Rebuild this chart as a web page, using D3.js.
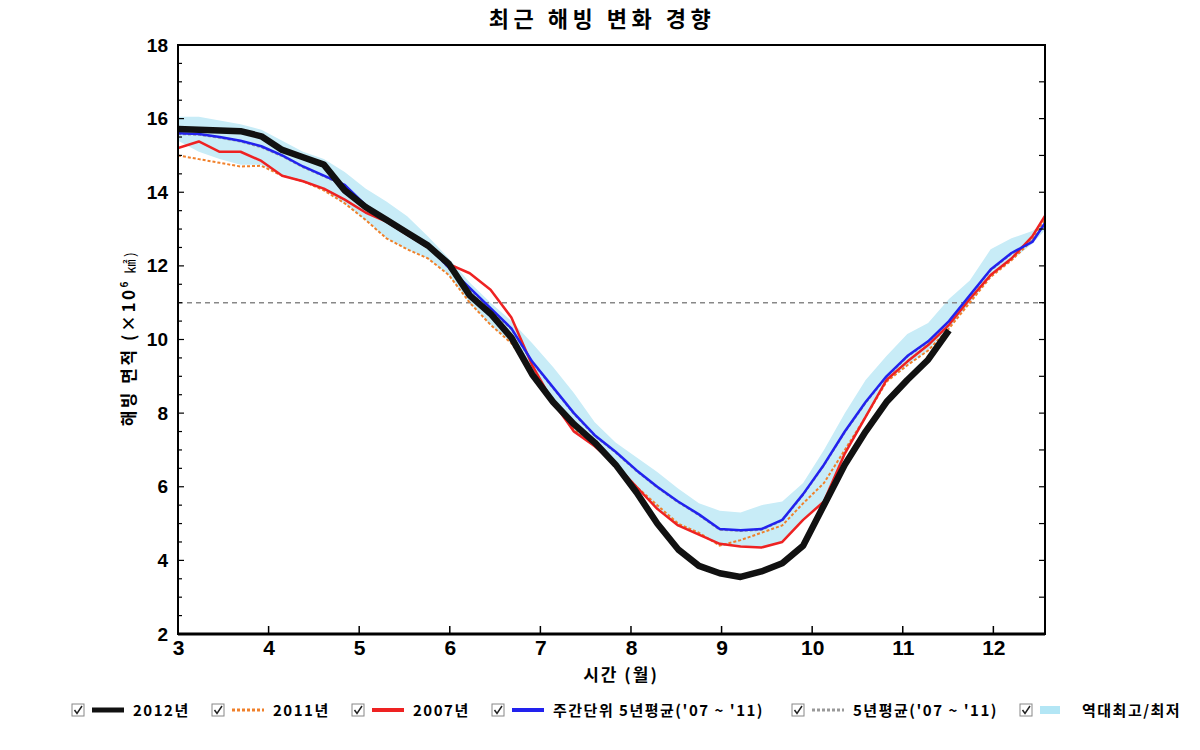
<!DOCTYPE html>
<html><head><meta charset="utf-8">
<script src="https://cdn.jsdelivr.net/npm/d3@7"></script>
<style>
body{margin:0;background:#fff;}
svg{display:block;}
</style></head>
<body>
<svg id="c" width="1200" height="750"></svg>
<script>
// Time grid (month, fractional), roughly weekly
const weeks = [3.00,3.23,3.46,3.69,3.92,4.15,4.38,4.61,4.84,5.07,5.30,5.53,5.76,5.99,6.22,6.45,6.68,6.91,7.14,7.37,7.60,7.83,8.06,8.29,8.52,8.75,8.98,9.21,9.44,9.67,9.90,10.13,10.36,10.59,10.82,11.05,11.28,11.51,11.74,11.97,12.20,12.43,12.58];

const y2012 = [15.72,15.70,15.68,15.66,15.52,15.15,14.95,14.75,14.05,13.60,13.25,12.90,12.55,12.05,11.20,10.70,10.05,9.05,8.30,7.70,7.20,6.60,5.85,5.00,4.30,3.85,3.65,3.55,3.70,3.92,4.40,5.50,6.60,7.50,8.30,8.90,9.45,10.25,null,null,null,null,null];
const y2011 = [15.00,14.90,14.80,14.70,14.72,14.45,14.30,14.05,13.70,13.25,12.75,12.45,12.20,11.75,11.00,10.40,9.90,9.10,8.30,7.55,7.15,6.60,6.00,5.50,5.00,4.75,4.40,4.55,4.75,4.95,5.55,6.10,7.00,7.90,8.85,9.30,9.70,10.30,11.00,11.70,12.15,12.70,13.30];
const y2007 = [15.20,15.38,15.10,15.10,14.85,14.45,14.30,14.10,13.80,13.45,13.20,12.85,12.50,12.05,11.80,11.35,10.60,9.30,8.30,7.50,7.10,6.60,6.00,5.40,4.95,4.70,4.45,4.38,4.35,4.50,5.10,5.60,6.90,7.90,8.90,9.40,9.85,10.40,11.10,11.75,12.20,12.80,13.40];
const yWeekAvg = [15.60,15.58,15.50,15.40,15.25,15.00,14.70,14.45,14.20,13.65,13.25,12.90,12.55,11.95,11.40,10.85,10.30,9.40,8.70,8.00,7.40,6.95,6.45,6.00,5.60,5.25,4.85,4.82,4.85,5.10,5.80,6.60,7.50,8.30,9.00,9.55,9.95,10.50,11.20,11.90,12.35,12.65,13.20];
const y5yrAvg = [15.58,15.56,15.48,15.38,15.22,14.98,14.68,14.43,14.18,13.63,13.23,12.88,12.53,11.93,11.38,10.83,10.28,9.38,8.68,7.98,7.38,6.93,6.43,5.98,5.58,5.23,4.83,4.80,4.83,5.08,5.78,6.58,7.48,8.28,8.98,9.53,9.93,10.48,11.18,11.88,12.33,12.70,13.15];
const bandMax = [16.05,16.05,15.95,15.85,15.70,15.40,15.10,14.90,14.55,14.10,13.75,13.35,12.80,12.20,11.55,11.00,10.50,9.90,9.25,8.55,7.75,7.20,6.80,6.40,5.95,5.55,5.35,5.30,5.50,5.60,6.10,7.00,8.00,8.90,9.55,10.15,10.45,11.10,11.60,12.45,12.75,12.95,13.20];
const bandMin = [15.40,15.10,14.90,14.75,14.75,14.45,14.30,14.05,13.70,13.25,12.75,12.45,12.20,11.75,11.00,10.40,9.90,9.05,8.30,7.45,7.10,6.60,6.00,5.40,4.95,4.70,4.40,4.38,4.35,4.50,5.10,5.60,6.90,7.90,8.85,9.30,9.70,10.30,11.00,11.70,12.15,12.60,13.00];

const refLine = 11;
const xTicks = [3,4,5,6,7,8,9,10,11,12];
const yTicks = [2,4,6,8,10,12,14,16,18];

const title = "최근 해빙 변화 경향";
const xTitle = "시간 (월)";
const legendItems = [
  {label:"2012년", type:"line", color:"#111111", dash:null, w:5},
  {label:"2011년", type:"line", color:"#f0802a", dash:"3,2", w:3},
  {label:"2007년", type:"line", color:"#ee2222", dash:null, w:4},
  {label:"주간단위 5년평균('07 ~ '11)", type:"line", color:"#2222ee", dash:null, w:4},
  {label:"5년평균('07 ~ '11)", type:"line", color:"#999999", dash:"3,2", w:3},
  {label:"역대최고/최저", type:"band", color:"#b3e6f5"}
];
const legendX = [72, 212, 352, 492, 792, 1020];

const svg = d3.select("#c");
const L=178, R=1045, T=45, B=634;
const x = d3.scaleLinear().domain([3,12.57]).range([L,R]);
const y = d3.scaleLinear().domain([2,18]).range([B,T]);

svg.append("defs").append("clipPath").attr("id","clip")
  .append("rect").attr("x",L).attr("y",T).attr("width",R-L).attr("height",B-T);

const g = svg.append("g").attr("clip-path","url(#clip)");

// band
const area = d3.area().x((d,i)=>x(weeks[i])).y0((d,i)=>y(bandMin[i])).y1((d,i)=>y(bandMax[i]));
g.append("path").datum(bandMax).attr("d",area).attr("fill","#c8ecf7");

// reference line
g.append("line").attr("x1",L).attr("x2",R).attr("y1",y(refLine)).attr("y2",y(refLine))
  .attr("stroke","#888").attr("stroke-width",1.5).attr("stroke-dasharray","5,4");

const line = d3.line().defined(d=>d!=null).x((d,i)=>x(weeks[i])).y(d=>y(d));
function draw(data,color,w,dash){
  const p = g.append("path").datum(data).attr("d",line).attr("fill","none")
    .attr("stroke",color).attr("stroke-width",w).attr("stroke-linejoin","round");
  if(dash) p.attr("stroke-dasharray",dash);
}
draw(y5yrAvg,"#999999",2,"3,2");
draw(y2011,"#f0802a",2,"3,2");
draw(y2007,"#ee2222",2.5,null);
draw(yWeekAvg,"#2222ee",2.5,null);
draw(y2012,"#111111",6.5,null);

// frame
svg.append("rect").attr("x",L).attr("y",T).attr("width",R-L).attr("height",B-T)
  .attr("fill","none").attr("stroke","#000").attr("stroke-width",2);
svg.append("line").attr("x1",L).attr("x2",R).attr("y1",B).attr("y2",B).attr("stroke","#000").attr("stroke-width",3);

// y axis (ticks inside)
const yAxis = d3.axisLeft(y).tickValues(yTicks).tickSize(0).tickPadding(10);
const ya = svg.append("g").attr("transform",`translate(${L},0)`).call(yAxis);
ya.select(".domain").remove();
ya.selectAll("text").attr("font-family","Liberation Sans, Arial, sans-serif").attr("font-weight","bold").attr("font-size",19).attr("fill","#000");
const minorY = d3.range(2,18.01,0.5);
svg.append("g").selectAll("line").data(minorY).join("line")
  .attr("x1",L).attr("x2",d=>L+(d%2===0?6:4)).attr("y1",d=>y(d)).attr("y2",d=>y(d)).attr("stroke","#000").attr("stroke-width",1.2);
svg.append("g").selectAll("line").data(d3.range(2,18.01,1)).join("line")
  .attr("x1",R).attr("x2",R-6).attr("y1",d=>y(d)).attr("y2",d=>y(d)).attr("stroke","#000").attr("stroke-width",1.2);

// x axis
const xAxis = d3.axisBottom(x).tickValues(xTicks).tickSize(0).tickPadding(6);
const xa = svg.append("g").attr("transform",`translate(0,${B})`).call(xAxis);
xa.select(".domain").remove();
xa.selectAll("text").attr("font-family","Liberation Sans Narrow, Liberation Sans, Arial, sans-serif").attr("font-weight","bold").attr("font-size",21).attr("fill","#000");
svg.append("g").selectAll("line").data(xTicks.slice(1)).join("line")
  .attr("x1",d=>x(d)).attr("x2",d=>x(d)).attr("y1",B).attr("y2",B-8).attr("stroke","#000").attr("stroke-width",1.5);

// titles
svg.append("text").attr("x",602).attr("y",27).attr("text-anchor","middle")
  .attr("font-family","Noto Sans CJK KR, sans-serif").attr("font-weight","bold").attr("font-size",22)
  .attr("letter-spacing",4.5).text(title);
svg.append("text").attr("x",621).attr("y",681).attr("text-anchor","middle")
  .attr("font-family","Noto Sans CJK KR, sans-serif").attr("font-weight","bold").attr("font-size",17)
  .attr("letter-spacing",2).text(xTitle);
const yt = svg.append("text").attr("transform","translate(135,338) rotate(-90)").attr("text-anchor","middle")
  .attr("font-family","Noto Sans CJK KR, sans-serif").attr("font-weight","bold").attr("font-size",17).attr("letter-spacing",2.5);
yt.append("tspan").text("해빙 면적 (×10");
yt.append("tspan").attr("font-size",10).attr("dy",-7).text("6");
yt.append("tspan").attr("dy",7).attr("font-weight","normal").attr("font-size",14).text(" ㎢)");

// legend
const lg = svg.append("g").attr("transform","translate(0,710)");
legendItems.forEach((it,i)=>{
  const gx = legendX[i];
  const gi = lg.append("g").attr("transform",`translate(${gx},0)`);
  gi.append("rect").attr("x",0).attr("y",-6).attr("width",12).attr("height",12).attr("fill","#fff").attr("stroke","#888").attr("stroke-width",1);
  gi.append("path").attr("d","M2.5,0 L5,3.5 L10,-4").attr("fill","none").attr("stroke","#222").attr("stroke-width",1.5);
  const tx = it.type==="line" ? 61 : 62;
  if(it.type==="line"){
    const ln = gi.append("line").attr("x1",20).attr("x2",52).attr("y1",0).attr("y2",0).attr("stroke",it.color).attr("stroke-width",it.w);
    if(it.dash) ln.attr("stroke-dasharray",it.dash);
  } else {
    gi.append("rect").attr("x",20).attr("y",-4).attr("width",20).attr("height",8).attr("fill",it.color);
  }
  gi.append("text").attr("x",tx).attr("y",6).attr("font-family","Noto Sans CJK KR, sans-serif").attr("font-weight","bold").attr("font-size",15).attr("letter-spacing",1.5).text(it.label);
});
</script>
</body></html>
